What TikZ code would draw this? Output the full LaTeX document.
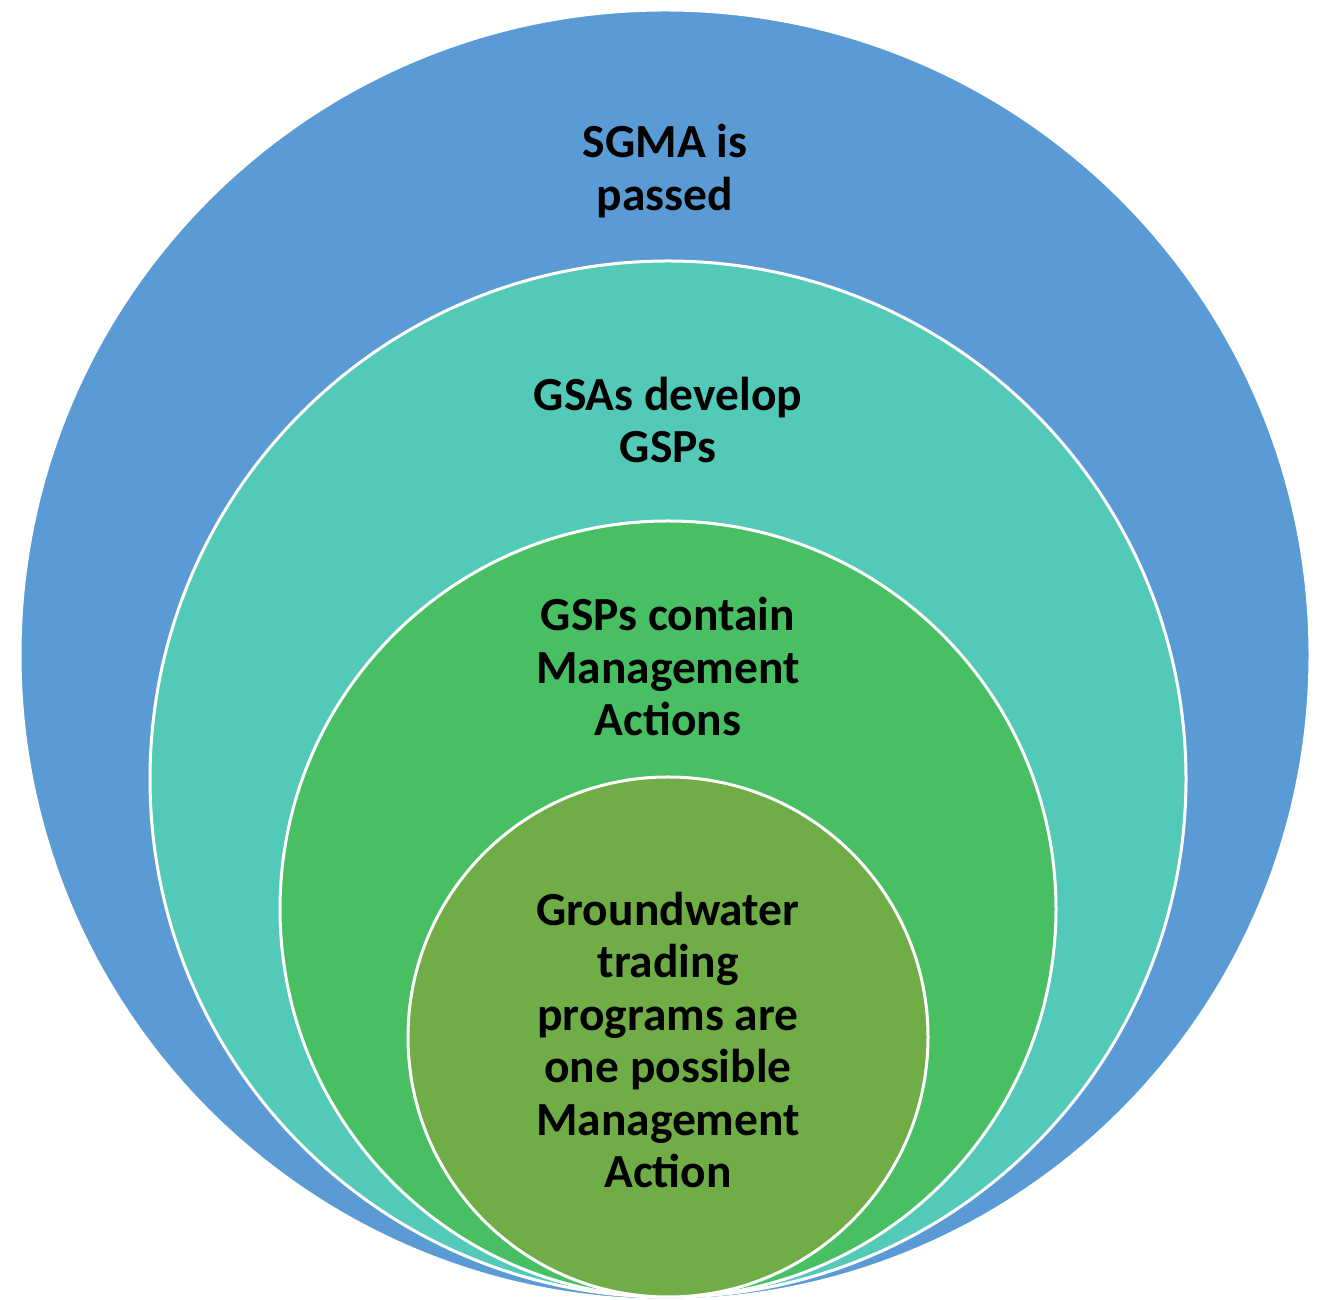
\documentclass[tikz,border=0pt]{standalone}
\usepackage{fontspec}
\setmainfont{Carlito}
\definecolor{cBlue}{HTML}{5B9BD5}
\definecolor{cTeal}{HTML}{53C9B7}
\definecolor{cGreen}{HTML}{48BF63}
\definecolor{cOlive}{HTML}{70AD47}
\begin{document}
\begin{tikzpicture}[x=1pt,y=1pt,
  ring/.style={circle,draw=white,line width=3pt,inner sep=0pt,minimum size=#1},
  lbl/.style={align=center,font=\fontsize{47.5}{52.5}\selectfont\bfseries,text=black}]
\useasboundingbox (0,0) rectangle (1323,1299);
\node[ring=1290pt,fill=cBlue] (c1) at (665,644) {};
\node[ring=1036pt,fill=cTeal] (c2) at (668,520) {};
\node[ring=776pt,fill=cGreen] (c3) at (668,390) {};
\node[ring=520pt,fill=cOlive] (c4) at (668,262) {};
\node[lbl] (t1) at (665,1128) {SGMA is\\passed};
\node[lbl] (t2) at (668,879) {GSAs develop\\GSPs};
\node[lbl] (t3) at (668,632) {GSPs contain\\Management\\Actions};
\node[lbl] (t4) at (668,259) {Groundwater\\trading\\programs are\\one possible\\Management\\Action};
\end{tikzpicture}
\end{document}
